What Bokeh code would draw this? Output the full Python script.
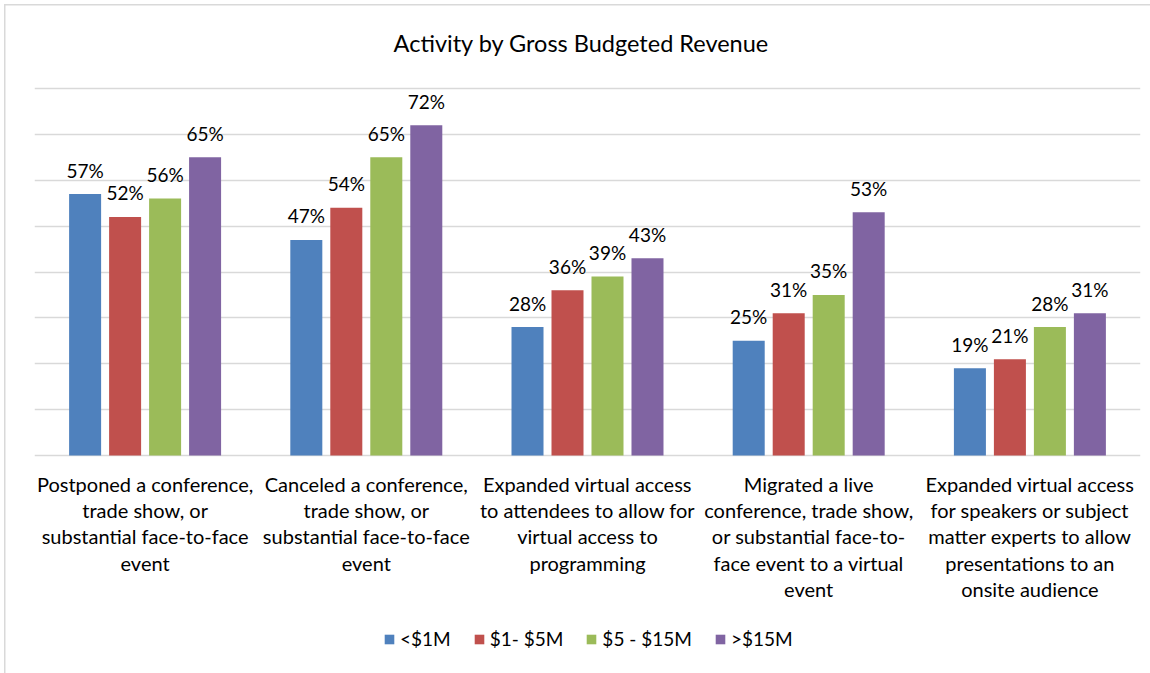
from bokeh.plotting import figure
from bokeh.models import ColumnDataSource, FixedTicker, Legend, LegendItem, Range1d
from bokeh.transform import dodge
from bokeh.core.properties import value
from bokeh.embed import file_html
from bokeh.resources import INLINE

# ---- data ----
title_text = "Activity by Gross Budgeted Revenue"
categories = [
    "Postponed a conference,\ntrade show, or\nsubstantial face-to-face\nevent",
    "Canceled a conference,\ntrade show, or\nsubstantial face-to-face\nevent",
    "Expanded virtual access\nto attendees to allow for\nvirtual access to\nprogramming",
    "Migrated a live\nconference, trade show,\nor substantial face-to-\nface event to a virtual\nevent",
    "Expanded virtual access\nfor speakers or subject\nmatter experts to allow\npresentations to an\nonsite audience",
]
series_names = ["<$1M", "$1- $5M", "$5 - $15M", ">$15M"]
under_1m = [57, 47, 28, 25, 19]
from_1_to_5m = [52, 54, 36, 31, 21]
from_5_to_15m = [56, 65, 39, 35, 28]
over_15m = [65, 72, 43, 53, 31]
series_values = [under_1m, from_1_to_5m, from_5_to_15m, over_15m]
grid_ticks = [0, 10, 20, 30, 40, 50, 60, 70, 80]
colors = ["#4F81BD", "#C0504D", "#9BBB59", "#8064A2"]

FONT = "Lato"
TEXT_COLOR = "#000000"
GRID = "#D9D9D9"

# ---- layout (pixels) ----
W, H = 1150, 673
FRAME_LEFT, FRAME_RIGHT = 34, 1140
TOP_GRID_Y = 88         # value 80 sits here
ZERO_Y = 455            # value 0 sits here
TITLE_Y = 41            # title centre
px_per_unit = (ZERO_Y - TOP_GRID_Y) / grid_ticks[-1]
y_start = -(H - ZERO_Y) / px_per_unit       # frame runs down to canvas bottom
y_end = grid_ticks[-1] + TOP_GRID_Y / px_per_unit   # and up to canvas top

p = figure(width=W, height=H, output_backend="svg", toolbar_location=None,
           x_range=Range1d(-0.5, len(categories) - 0.5),
           y_range=Range1d(y_start, y_end),
           min_border_left=FRAME_LEFT, min_border_right=W - FRAME_RIGHT,
           min_border_top=0, min_border_bottom=0)
p.styles = {
    "background": ("linear-gradient(#D9D9D9,#D9D9D9) 4px 4px / 1.5px 100% no-repeat, "
                   "linear-gradient(#D9D9D9,#D9D9D9) 4px 4px / 100% 1.5px no-repeat, white"),
}
p.border_fill_alpha = 0
p.background_fill_alpha = 0
p.outline_line_color = None

# title
title_src = ColumnDataSource(dict(x=[(len(categories) - 1) / 2], y=[grid_ticks[-1]], text=[title_text]))
p.text(x="x", y="y", text="text", source=title_src, text_align="center", text_baseline="middle",
       x_offset=-6, y_offset=-(TOP_GRID_Y - TITLE_Y) + 1, text_font=value(FONT),
       text_font_size="23.5px", text_color=TEXT_COLOR)

bar_w = 0.1447
step = 0.1808
offsets = [-1.5 * step, -0.5 * step, 0.5 * step, 1.5 * step]

items = []
for name, vals, col, off in zip(series_names, series_values, colors, offsets):
    src = ColumnDataSource(dict(x=list(range(len(categories))), top=vals,
                                label=[f"{v}%" for v in vals]))
    r = p.vbar(x=dodge("x", off, range=p.x_range), top="top", width=bar_w, source=src,
               fill_color=col, line_color=None)
    p.text(x=dodge("x", off, range=p.x_range), y="top", text="label", source=src,
           text_align="center", text_baseline="alphabetic", y_offset=-24,
           text_font=value(FONT), text_font_size="19px", text_color=TEXT_COLOR)
    items.append(LegendItem(label=name, renderers=[r]))

# category labels under the baseline
cat_src = ColumnDataSource(dict(x=list(range(len(categories))),
                                y=[grid_ticks[0]] * len(categories), text=categories))
p.text(x="x", y="y", text="text", source=cat_src, text_align="center", text_baseline="top",
       y_offset=16, text_font=value(FONT), text_font_size="20px", text_line_height=1.1,
       text_color=TEXT_COLOR)

# axes / grid
p.xaxis.visible = False
p.yaxis.visible = False
p.yaxis.ticker = FixedTicker(ticks=grid_ticks)
p.xgrid.grid_line_color = None
p.ygrid.grid_line_color = GRID
p.ygrid.grid_line_width = 1.5

legend = Legend(items=items, orientation="horizontal", location=(383 - FRAME_LEFT, 23),
                glyph_width=12, glyph_height=12, label_standoff=5, spacing=22,
                padding=0, margin=0, border_line_color=None, background_fill_alpha=0,
                label_text_font=FONT, label_text_font_size="19px", label_text_color=TEXT_COLOR)
p.add_layout(legend, "center")

open("out.html", "w").write(file_html(p, INLINE))
